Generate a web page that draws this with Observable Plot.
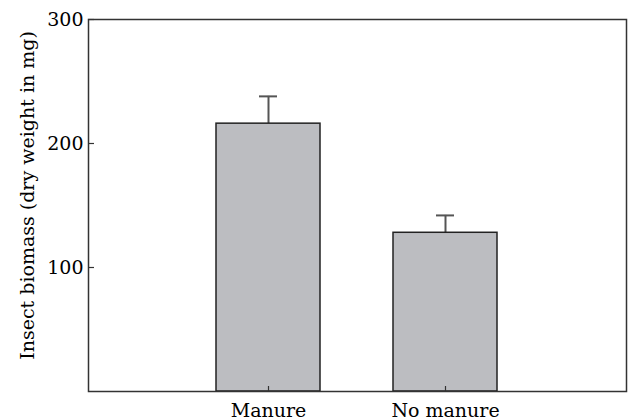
<!DOCTYPE html>
<html>
<head>
<meta charset="utf-8">
<script src="https://cdn.jsdelivr.net/npm/d3@7"></script>
<script src="https://cdn.jsdelivr.net/npm/@observablehq/plot@0.6"></script>
<style>
  html, body { margin: 0; padding: 0; background: #fff; }
  #chart svg { font-family: "DejaVu Serif", serif; }
</style>
</head>
<body>
<div id="chart"></div>
<script>
const categories = ["Manure", "No manure"];
const means = [216, 128];
const errors = [22, 14];
const yTicks = [100, 200, 300];
const yLabel = "Insect biomass (dry weight in mg)";

const data = categories.map((c, i) => ({cat: c, mean: means[i], top: means[i] + errors[i]}));

const chart = Plot.plot({
  width: 628,
  height: 420,
  marginLeft: 88,
  marginTop: 19,
  marginRight: 2,
  marginBottom: 29,
  style: {fontFamily: "DejaVu Serif, serif", fontSize: "19px", color: "#000", background: "#fff"},
  x: {domain: categories, paddingInner: 0.41, paddingOuter: 0.72, label: null},
  y: {domain: [0, 300], label: null},
  marks: [
    Plot.ruleX(data, {x: "cat", y1: "mean", y2: "top", stroke: "#555", strokeWidth: 2}),
    Plot.tickY(data, {x: "cat", y: "top", stroke: "#555", strokeWidth: 2, insetLeft: 43, insetRight: 43}),
    Plot.barY(data, {x: "cat", y: "mean", fill: "#bcbdc1", stroke: "#222", strokeWidth: 1.5}),
    Plot.axisY({ticks: yTicks, tickSize: 0, tickPadding: 5, fontSize: 19, fill: "#000", label: null}),
    Plot.axisY({ticks: yTicks, text: null, tickSize: 6, dx: 6, stroke: "#333", strokeWidth: 1.2}),
    Plot.axisX({tickSize: 0, tickPadding: 12, fontSize: 19, fill: "#000", label: null}),
    Plot.axisX({text: null, tickSize: 5, dy: -5, stroke: "#333", strokeWidth: 1.2}),
    Plot.text([yLabel], {text: d => d, frameAnchor: "left", textAnchor: "middle", rotate: -90, dx: -61, dy: -10, fontSize: 19, fill: "#000"}),
    Plot.frame({stroke: "#333", strokeWidth: 1.5})
  ]
});
document.getElementById("chart").appendChild(chart);
</script>
</body>
</html>
